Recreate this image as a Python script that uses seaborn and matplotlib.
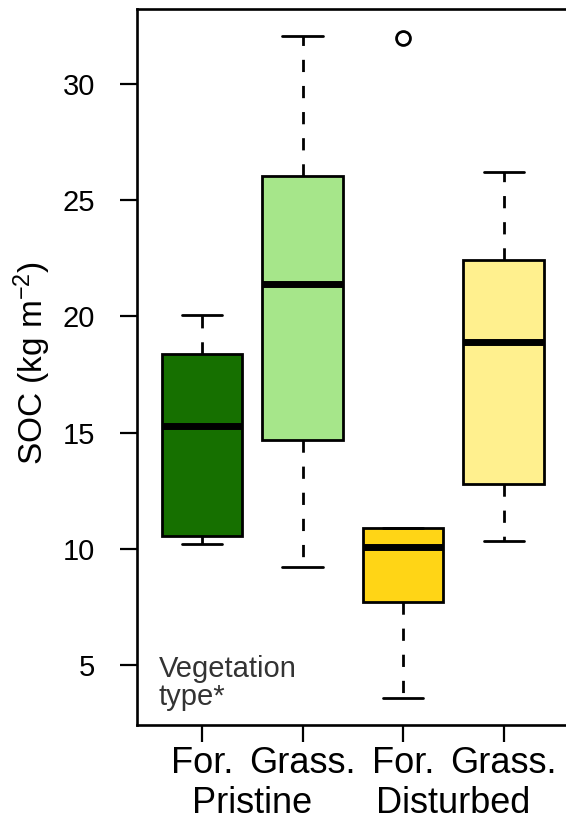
import matplotlib
matplotlib.use("Agg")
import matplotlib.pyplot as plt
import matplotlib.transforms as mtransforms
import seaborn as sns
import pandas as pd

# ---- data (five-number summaries, plus one outlier) ----
groups = ["For. Pristine", "Grass. Pristine", "For. Disturbed", "Grass. Disturbed"]
for_pristine = [10.2, 10.55, 15.3, 18.4, 20.05]
grass_pristine = [9.2, 14.7, 21.4, 26.05, 32.05]
for_disturbed = [3.6, 7.7, 10.1, 10.9, 32.0]
grass_disturbed = [10.35, 12.8, 18.9, 22.45, 26.2]
tick_labels = ["For.", "Grass.", "For.", "Grass."]
site_labels = ["Pristine", "Disturbed"]
colors = ["#167000", "#a6e68a", "#ffd516", "#fff08e"]
y_ticks = [5, 10, 15, 20, 25, 30]

values = [for_pristine, grass_pristine, for_disturbed, grass_disturbed]
df = pd.DataFrame({
    "group": [g for g, v in zip(groups, values) for _ in v],
    "soc": [x for v in values for x in v],
})

sns.set_theme(style="white")
plt.rcParams["font.family"] = ["Liberation Sans", "DejaVu Sans"]
plt.rcParams["mathtext.default"] = "regular"

fig = plt.figure(figsize=(5.66, 8.22), dpi=100)
ax = fig.add_axes([137 / 566, 1 - 725 / 822, 1 - 137 / 566, (725 - 9) / 822])

lw = 2.0
sns.boxplot(
    data=df, x="group", y="soc", hue="group", order=groups, hue_order=groups,
    palette=colors, legend=False, width=0.8, whis=1.5, ax=ax,
    linewidth=lw, linecolor="black", saturation=1,
    boxprops=dict(edgecolor="black", linewidth=lw),
    whiskerprops=dict(color="black", linewidth=lw, linestyle=(0, (4.4, 5.0))),
    capprops=dict(color="black", linewidth=lw),
    medianprops=dict(color="black", linewidth=5, solid_capstyle="butt"),
    flierprops=dict(marker="o", markerfacecolor="none", markeredgecolor="black",
                    markersize=10, markeredgewidth=2.0),
)

ax.set_xlim(-0.646, 3.62)
ax.set_ylim(2.42, 33.23)
ax.set_yticks(y_ticks)
ax.set_yticklabels([str(t) for t in y_ticks], fontsize=21)
ax.set_xticks(range(4))
ax.set_xticklabels(tick_labels, fontsize=26)
ax.tick_params(axis="both", direction="out", length=12, width=1.6, color="black",
               left=True, bottom=True, labelcolor="black")
ax.tick_params(axis="y", pad=18)
ax.tick_params(axis="x", pad=3)

for side in ["left", "bottom", "top"]:
    ax.spines[side].set_visible(True)
    ax.spines[side].set_color("black")
    ax.spines[side].set_linewidth(1.9)
ax.spines["right"].set_visible(False)

ax.set_xlabel("")
ax.set_ylabel("SOC (kg m$^{-2}$)", fontsize=24, color="black")
ax.yaxis.set_label_coords(-0.195, 0.505)

trans = mtransforms.blended_transform_factory(ax.transData, ax.transAxes)
ax.text(0.5, -0.1225, site_labels[0], transform=trans, ha="center", va="baseline",
        fontsize=26, color="black")
ax.text(2.5, -0.1225, site_labels[1], transform=trans, ha="center", va="baseline",
        fontsize=26, color="black")

ax.text(0.05, 0.02, "Vegetation\ntype*", transform=ax.transAxes, ha="left",
        va="bottom", fontsize=21, color="#333333", linespacing=1.0)

fig.savefig("out.png", dpi=100, facecolor="white")
